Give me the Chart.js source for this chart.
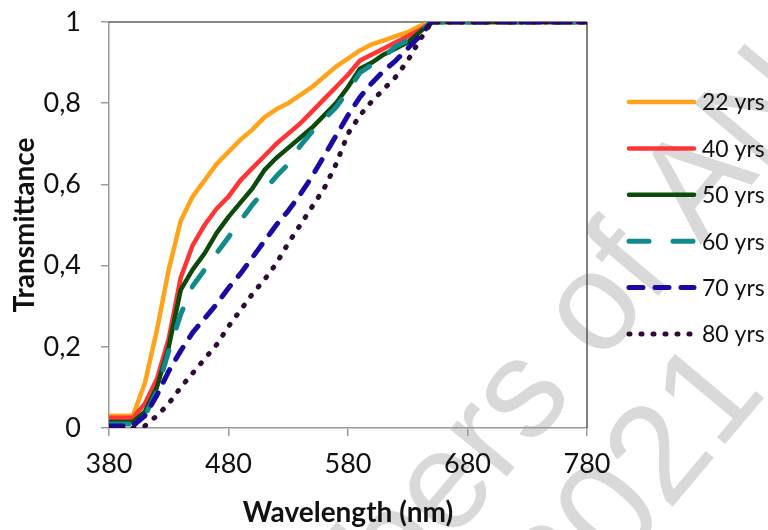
<!DOCTYPE html>
<html>
<head>
<meta charset="utf-8">
<script src="https://cdn.jsdelivr.net/npm/chart.js@4.4.1/dist/chart.umd.min.js"></script>
<style>
  html, body { margin: 0; padding: 0; background: #fff; }
  #wrap { width: 768px; height: 530px; position: relative; }
</style>
</head>
<body>
<div id="wrap"><canvas id="chart"></canvas></div>
<script>
// wavelength (nm); all curves sit flat at 1 from 650 to 780
const WAVELENGTHS = [380, 390, 400, 410, 420, 430, 440, 450, 460, 470, 480, 490, 500, 510,
                     520, 530, 540, 550, 560, 570, 580, 590, 600, 610, 620, 630, 640, 650, 780];

const T_22 = [0.03, 0.03, 0.03, 0.11, 0.24, 0.39, 0.51, 0.57, 0.61, 0.65, 0.68, 0.71, 0.735, 0.765,
              0.785, 0.80, 0.82, 0.84, 0.865, 0.89, 0.91, 0.93, 0.945, 0.955, 0.965, 0.975, 0.99, 1, 1];
const T_40 = [0.025, 0.025, 0.025, 0.06, 0.12, 0.22, 0.37, 0.45, 0.50, 0.54, 0.57, 0.61, 0.64, 0.67,
              0.70, 0.725, 0.75, 0.78, 0.81, 0.84, 0.87, 0.905, 0.92, 0.935, 0.95, 0.965, 0.98, 1, 1];
const T_50 = [0.015, 0.015, 0.015, 0.04, 0.10, 0.20, 0.34, 0.39, 0.43, 0.48, 0.52, 0.555, 0.59, 0.635,
              0.665, 0.69, 0.715, 0.74, 0.77, 0.80, 0.84, 0.885, 0.90, 0.92, 0.935, 0.95, 0.975, 1, 1];
const T_60 = [0.01, 0.01, 0.01, 0.03, 0.09, 0.19, 0.28, 0.35, 0.39, 0.43, 0.47, 0.51, 0.55, 0.585,
              0.62, 0.65, 0.695, 0.73, 0.76, 0.79, 0.83, 0.875, 0.895, 0.915, 0.94, 0.955, 0.975, 1, 1];
const T_70 = [0.005, 0.005, 0.005, 0.03, 0.08, 0.14, 0.19, 0.235, 0.27, 0.305, 0.345, 0.38, 0.42, 0.46,
              0.50, 0.535, 0.575, 0.62, 0.67, 0.72, 0.77, 0.815, 0.85, 0.88, 0.905, 0.935, 0.965, 1, 1];
const T_80 = [0, 0, 0, 0.005, 0.03, 0.06, 0.10, 0.135, 0.17, 0.205, 0.25, 0.29, 0.33, 0.365,
              0.405, 0.455, 0.50, 0.545, 0.59, 0.65, 0.725, 0.77, 0.805, 0.835, 0.865, 0.905, 0.955, 1, 1];

const SERIES_LABELS = ["22 yrs", "40 yrs", "50 yrs", "60 yrs", "70 yrs", "80 yrs"];
const SERIES_VALUES = [T_22, T_40, T_50, T_60, T_70, T_80];
const X_TICKS = [380, 480, 580, 680, 780];

const FONT = "Lato, 'Open Sans', sans-serif";

const LINE_STYLES = [
  { color: "#FFA31A", width: 4.5, dash: [] },
  { color: "#FF3535", width: 4.5, dash: [] },
  { color: "#0B4A0B", width: 4.5, dash: [] },
  { color: "#108A8C", width: 5, dash: [20, 24] },
  { color: "#1A0AA3", width: 5, dash: [14, 12] },
  { color: "#2E0A35", width: 5, dash: [1, 11] },
];

const datasets = SERIES_LABELS.map((label, i) => ({
  label,
  data: WAVELENGTHS.map((w, j) => ({ x: w, y: SERIES_VALUES[i][j] })),
  borderColor: LINE_STYLES[i].color,
  backgroundColor: LINE_STYLES[i].color,
  borderWidth: LINE_STYLES[i].width,
  borderDash: LINE_STYLES[i].dash,
  borderCapStyle: LINE_STYLES[i].dash.length ? "round" : "butt",
  borderJoinStyle: "round",
  pointRadius: 0,
  tension: 0,
  order: SERIES_LABELS.length - i,
}));

// faint diagonal watermark behind everything
const watermark = {
  id: "watermark",
  beforeDraw(chart) {
    const ctx = chart.ctx;
    const ang = -50 * Math.PI / 180;
    ctx.save();
    ctx.fillStyle = "#d9d9d9";
    ctx.font = "140px 'Liberation Sans', sans-serif";
    ctx.textBaseline = "alphabetic";
    ctx.save();
    ctx.translate(598, 312);
    ctx.rotate(ang);
    let off = ctx.measureText("Members ").width + ctx.measureText("o").width / 2;
    ctx.fillText("Members of ANSES", -off, 36);
    ctx.restore();
    ctx.save();
    ctx.translate(655, 450);
    ctx.rotate(ang);
    off = ctx.measureText("20").width + ctx.measureText("2").width / 2;
    ctx.fillText("2021", -off, 50);
    ctx.restore();
    ctx.restore();
  },
};

// top and right frame of the plot area
const frame = {
  id: "frame",
  beforeDatasetsDraw(chart) {
    const { ctx, chartArea: a } = chart;
    ctx.save();
    ctx.lineWidth = 1.2;
    ctx.strokeStyle = "#111";
    ctx.beginPath();
    ctx.moveTo(a.left, a.top);
    ctx.lineTo(a.right, a.top);
    ctx.stroke();
    ctx.strokeStyle = "#555";
    ctx.lineWidth = 1.5;
    ctx.beginPath();
    ctx.moveTo(a.right, a.top);
    ctx.lineTo(a.right, a.bottom);
    ctx.stroke();
    ctx.restore();
  },
};

// legend with real line samples (dash patterns) on the right
const lineLegend = {
  id: "lineLegend",
  afterDraw(chart) {
    const ctx = chart.ctx;
    ctx.save();
    chart.data.datasets.forEach((ds, i) => {
      const y = 102 + i * 46.4;
      ctx.strokeStyle = ds.borderColor;
      ctx.lineWidth = ds.borderWidth;
      ctx.setLineDash(ds.borderDash);
      ctx.lineCap = "round";
      ctx.beginPath();
      ctx.moveTo(629, y);
      ctx.lineTo(694, y);
      ctx.stroke();
      ctx.setLineDash([]);
      ctx.fillStyle = "#111";
      ctx.font = "23px " + FONT;
      ctx.textAlign = "left";
      ctx.textBaseline = "middle";
      ctx.fillText(ds.label, 702, y + 1);
    });
    ctx.restore();
  },
};

new Chart(document.getElementById("chart"), {
  type: "line",
  data: { datasets },
  options: {
    animation: false,
    responsive: true,
    maintainAspectRatio: false,
    layout: { padding: { top: 22, right: 181, bottom: 0, left: 0 } },
    plugins: { legend: { display: false }, tooltip: { enabled: false } },
    scales: {
      x: {
        type: "linear",
        min: 380,
        max: 780,
        afterFit: (s) => { s.height = 102; s.paddingLeft = 0; s.paddingRight = 0; },
        afterBuildTicks: (s) => { s.ticks = X_TICKS.map((v) => ({ value: v })); },
        ticks: { color: "#111", font: { family: FONT, size: 27 }, padding: 12, maxRotation: 0 },
        grid: { drawOnChartArea: false, tickLength: 8, color: "#9a9a9a", lineWidth: 1.5 },
        border: { color: "#9a9a9a", width: 1.5 },
        title: { display: true, text: "Wavelength (nm)", color: "#111",
                 font: { family: FONT, size: 28, weight: "bold" }, padding: { top: 0, bottom: 0 } },
      },
      y: {
        min: 0,
        max: 1,
        afterFit: (s) => { s.width = 109; s.paddingTop = 0; s.paddingBottom = 0; },
        ticks: {
          stepSize: 0.2,
          color: "#111",
          font: { family: FONT, size: 27 },
          padding: 20,
          callback: (v) => String(+v.toFixed(1)).replace(".", ","),
        },
        grid: { drawOnChartArea: false, tickLength: 8, color: "#9a9a9a", lineWidth: 1.5 },
        border: { color: "#9a9a9a", width: 1.5 },
        title: { display: true, text: "Transmittance", color: "#111",
                 font: { family: FONT, size: 28, weight: "bold" }, padding: { top: 8, bottom: 0 } },
      },
    },
  },
  plugins: [watermark, frame, lineLegend],
});
</script>
</body>
</html>
